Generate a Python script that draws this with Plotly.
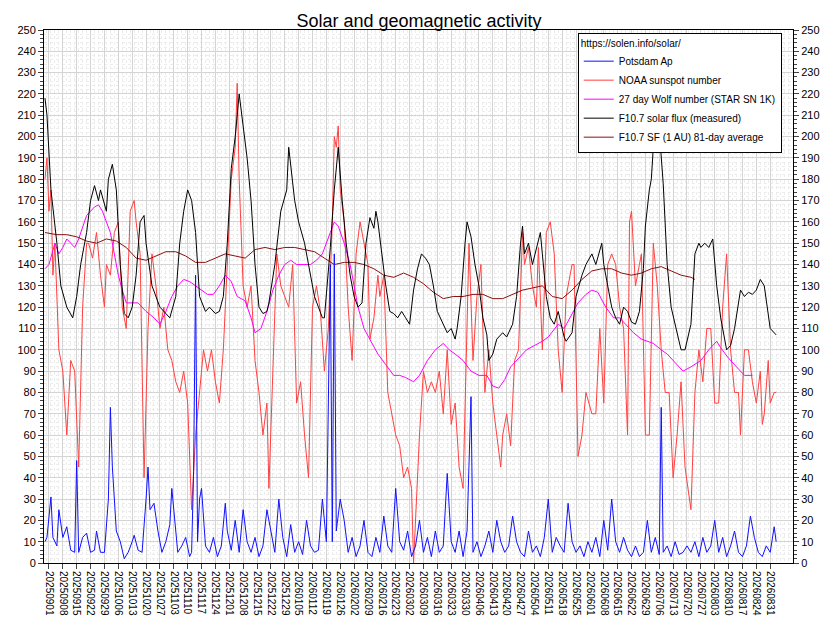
import pandas as pd
import plotly.graph_objects as go

start = pd.Timestamp("2025-09-01")

# F10.7 solar flux (measured): day offset from 2025-09-01, value
f107_days = [-2, -1, 1, 4, 6, 9, 12, 14, 16, 19, 21, 23, 25, 26, 29, 30, 32, 34, 36, 38, 40, 42, 44, 46, 48, 49,
             52, 54, 56, 59, 61, 64, 66, 68, 70, 72, 74, 76, 79, 81, 84, 86, 88, 90, 92, 94, 96, 98, 100, 102, 104,
             106, 108, 110, 111, 114, 117, 120, 121, 124, 126, 129, 131, 134, 136, 138, 139, 140, 142, 144, 145,
             146, 148, 150, 152, 154, 156, 158, 160, 162, 164, 165, 166, 168, 170, 172, 174, 176, 178, 180, 182,
             184, 186, 188, 190, 192, 194, 196, 199, 201, 203, 205, 206, 208, 210, 211, 213, 215, 217, 219, 221,
             222, 224, 226, 229, 231, 234, 236, 238, 239, 240, 242, 244, 246, 248, 249, 251, 253, 255, 257, 259,
             260, 261, 264, 266, 269, 271, 274, 276, 279, 280, 282, 284, 286, 288, 290, 292, 294, 296, 298, 300,
             301, 303, 304, 305, 306, 308, 310, 312, 314, 317, 319, 321, 324, 326, 328, 329, 331, 333, 335, 337,
             339, 342, 344, 346, 349, 351, 353, 355, 357, 359, 361, 364, 367]
f107_vals = [218, 210, 175, 150, 130, 120, 115, 125, 140, 155, 170, 177, 170, 175, 165, 180, 187, 175, 140, 117,
             115, 120, 135, 160, 163, 150, 130, 125, 120, 117, 115, 125, 150, 165, 175, 170, 155, 125, 118, 120,
             117, 118, 125, 150, 185, 200, 220, 205, 190, 170, 140, 120, 117, 118, 122, 140, 165, 175, 195, 170,
             160, 150, 140, 125, 120, 115, 115, 125, 148, 175, 185, 195, 170, 150, 135, 125, 120, 122, 150, 162,
             157, 165, 160, 145, 130, 118, 117, 115, 118, 115, 112, 128, 138, 145, 143, 140, 130, 118, 112, 108,
             110, 105, 110, 125, 150, 160, 153, 140, 130, 115, 107, 95, 98, 105, 108, 106, 112, 125, 150, 158, 145,
             150, 140, 148, 155, 145, 125, 115, 112, 118, 110, 106, 104, 108, 125, 135, 140, 145, 140, 150, 140,
             130, 120, 115, 112, 120, 118, 113, 112, 118, 138, 158, 175, 180, 195, 203, 203, 178, 140, 120, 108,
             100, 100, 112, 145, 150, 148, 150, 148, 152, 130, 115, 100, 102, 110, 128, 125, 127, 126, 128, 133,
             130, 110, 107]

# NOAA sunspot number
ssn_days = [-2, -1, 0, 1, 2, 3, 5, 7, 9, 10, 11, 13, 15, 17, 19, 20, 22, 24, 26, 28, 29, 31, 33, 35, 37, 39, 41,
            43, 44, 46, 48, 50, 52, 54, 56, 58, 60, 62, 64, 66, 68, 70, 72, 74, 76, 78, 80, 82, 84, 86, 88, 90, 92,
            94, 95, 96, 98, 100, 102, 104, 106, 108, 110, 111, 113, 115, 117, 119, 121, 123, 125, 127, 129, 131,
            133, 135, 137, 139, 141, 143, 144, 145, 146, 147, 149, 151, 153, 155, 157, 159, 161, 162, 164, 166,
            167, 169, 171, 173, 175, 177, 179, 181, 183, 184, 185, 187, 189, 191, 193, 195, 197, 199, 201, 203,
            205, 207, 209, 211, 212, 214, 216, 218, 220, 222, 224, 226, 228, 229, 231, 233, 235, 237, 239, 240,
            242, 244, 246, 247, 249, 251, 253, 255, 257, 259, 261, 264, 265, 267, 269, 271, 274, 276, 278, 280,
            282, 284, 286, 288, 290, 292, 293, 294, 296, 298, 299, 301, 303, 305, 307, 309, 311, 313, 315, 317,
            319, 321, 323, 324, 326, 328, 330, 332, 334, 336, 338, 340, 342, 344, 346, 348, 349, 351, 353, 355,
            357, 359, 360, 361, 363, 364, 366, 367]
ssn_vals = [180, 190, 165, 175, 135, 150, 100, 90, 60, 80, 95, 90, 45, 120, 150, 150, 143, 155, 135, 120, 140, 135,
            155, 160, 120, 110, 165, 170, 160, 145, 40, 110, 145, 130, 110, 120, 100, 95, 85, 80, 90, 75, 25, 60, 80,
            100, 90, 100, 85, 75, 100, 140, 180, 195, 225, 180, 130, 120, 130, 95, 80, 60, 75, 35, 95, 145, 130,
            125, 120, 140, 75, 85, 60, 40, 120, 130, 118, 90, 110, 160, 200, 195, 205, 175, 160, 120, 95, 145, 160,
            150, 140, 105, 115, 135, 125, 135, 80, 70, 60, 55, 40, 45, 35, 0, 20, 60, 90, 80, 85, 80, 90, 70, 100,
            65, 75, 45, 35, 110, 150, 95, 125, 140, 80, 100, 75, 60, 45, 60, 70, 55, 95, 100, 155, 140, 148, 130,
            120, 148, 100, 155, 160, 145, 100, 80, 125, 140, 140, 50, 60, 80, 70, 70, 110, 75, 140, 145, 140, 120,
            110, 60, 160, 165, 130, 140, 145, 60, 60, 150, 130, 100, 80, 80, 40, 60, 85, 45, 30, 25, 80, 100, 85,
            110, 110, 75, 75, 120, 145, 100, 80, 80, 60, 100, 100, 85, 75, 90, 65, 70, 95, 75, 80, 80]

# 27 day Wolf number (STAR SN 1K)
wolf_days = [-2, 0, 3, 5, 7, 9, 11, 13, 15, 17, 19, 21, 23, 25, 27, 29, 31, 33, 35, 37, 39, 42, 45, 49, 53, 56,
             59, 62, 65, 68, 71, 74, 77, 80, 83, 86, 89, 92, 95, 99, 102, 104, 107, 110, 113, 116, 119, 122, 125,
             128, 132, 135, 138, 142, 144, 146, 149, 152, 156, 159, 163, 166, 170, 174, 177, 180, 184, 187, 191,
             195, 199, 202, 205, 209, 213, 217, 221, 224, 227, 230, 233, 237, 241, 245, 249, 252, 257, 260, 263,
             267, 271, 274, 277, 281, 285, 288, 291, 295, 299, 302, 305, 309, 312, 316, 320, 324, 329, 333, 337,
             339, 343, 347, 351, 355]
wolf_vals = [138, 140, 150, 145, 148, 152, 150, 148, 152, 158, 163, 165, 167, 168, 165, 160, 155, 145, 135, 128,
             122, 122, 122, 118, 115, 112, 118, 125, 130, 133, 132, 130, 128, 126, 126, 130, 135, 132, 125, 123,
             115, 108, 110, 118, 128, 135, 140, 142, 140, 140, 140, 142, 145, 155, 160, 158, 150, 140, 120, 110,
             103, 98, 93, 88, 88, 87, 85, 88, 95, 100, 103, 100, 98, 95, 90, 88, 88, 83, 82, 86, 92, 96, 100, 102,
             104, 106, 112, 110, 115, 122, 126, 128, 127, 120, 115, 115, 112, 108, 105, 104, 103, 100, 98, 94, 90,
             92, 95, 100, 104, 101, 96, 92, 88, 88]

# F10.7 SF (1 AU) 81-day average
avg_days = [-2, 4, 9, 14, 19, 24, 29, 34, 39, 44, 49, 54, 59, 64, 69, 74, 79, 84, 89, 94, 99, 104, 109, 114, 119,
            124, 129, 134, 139, 144, 149, 154, 159, 164, 169, 174, 179, 184, 189, 194, 199, 204, 209, 214, 219,
            224, 229, 234, 239, 244, 249, 254, 259, 264, 269, 274, 279, 284, 289, 294, 299, 304, 309, 314, 319,
            324, 326]
avg_vals = [155, 154, 154, 153, 151, 150, 152, 151, 148, 143, 142, 144, 146, 146, 144, 141, 141, 143, 145, 144,
            143, 147, 148, 147, 148, 148, 147, 146, 143, 140, 141, 141, 140, 138, 135, 134, 136, 134, 131, 127, 124,
            125, 125, 126, 126, 124, 124, 126, 128, 129, 130, 125, 124, 128, 133, 137, 138, 138, 136, 135, 136,
            138, 139, 137, 135, 134, 133]

# Potsdam Ap
ap_days = [-2, -1, 1, 2, 4, 5, 7, 9, 11, 13, 14, 15, 17, 19, 21, 23, 24, 26, 28, 30, 31, 32, 34, 36, 38, 40, 42,
           43, 45, 47, 49, 50, 51, 53, 55, 57, 59, 61, 62, 63, 65, 67, 69, 71, 72, 73, 74, 75, 76, 77, 78, 79, 81,
           83, 85, 87, 89, 90, 92, 94, 96, 98, 100, 102, 104, 106, 108, 110, 112, 114, 116, 118, 120, 122, 124,
           126, 128, 130, 132, 134, 136, 138, 140, 142, 143, 144, 145, 147, 149, 151, 153, 155, 157, 159, 161,
           163, 165, 167, 169, 171, 173, 175, 177, 179, 181, 183, 185, 187, 189, 191, 193, 195, 197, 199, 201,
           203, 205, 207, 209, 211, 213, 214, 216, 218, 220, 222, 224, 226, 228, 230, 232, 234, 236, 238, 240,
           242, 244, 246, 248, 250, 252, 254, 256, 258, 260, 262, 264, 266, 268, 270, 272, 274, 276, 278, 280,
           282, 284, 286, 288, 290, 292, 294, 296, 298, 300, 302, 304, 306, 308, 309, 310, 312, 314, 316, 318,
           320, 322, 324, 326, 328, 330, 332, 334, 336, 338, 340, 342, 344, 346, 348, 350, 352, 354, 356, 358,
           360, 362, 364, 366, 367]
ap_vals = [10, 12, 31, 12, 8, 25, 12, 17, 6, 5, 48, 5, 12, 14, 5, 6, 15, 5, 5, 30, 73, 45, 15, 10, 2, 5, 10, 13,
           6, 5, 30, 45, 25, 28, 15, 5, 10, 18, 35, 25, 5, 8, 12, 3, 5, 43, 135, 10, 30, 35, 20, 8, 5, 12, 3, 8,
           28, 15, 6, 20, 5, 25, 10, 5, 12, 3, 8, 25, 15, 5, 30, 12, 3, 18, 5, 10, 4, 20, 8, 5, 6, 30, 10, 140, 10,
           145, 15, 30, 20, 5, 12, 3, 8, 20, 5, 3, 12, 5, 22, 8, 5, 35, 10, 6, 15, 3, 8, 20, 5, 12, 3, 15, 5, 8, 42,
           10, 5, 15, 3, 15, 78, 5, 10, 3, 8, 15, 5, 20, 10, 5, 8, 22, 10, 5, 3, 15, 5, 8, 3, 12, 30, 5, 12, 8, 5,
           28, 10, 5, 8, 3, 10, 5, 12, 3, 20, 6, 30, 10, 5, 12, 6, 3, 8, 3, 5, 20, 5, 12, 4, 73, 5, 8, 3, 10, 4, 5,
           8, 5, 10, 3, 12, 5, 8, 20, 5, 12, 3, 8, 15, 5, 3, 8, 22, 12, 5, 3, 8, 5, 17, 10]


def to_dates(days):
    return [start + pd.Timedelta(days=d) for d in days]


fig = go.Figure()
fig.add_trace(go.Scatter(x=to_dates(ssn_days), y=ssn_vals, name="NOAA sunspot number", legendrank=2,
                         mode="lines", line=dict(color="#ff4040", width=1)))
fig.add_trace(go.Scatter(x=to_dates(wolf_days), y=wolf_vals, name="27 day Wolf number (STAR SN 1K)",
                         legendrank=3, mode="lines", line=dict(color="#ff00ff", width=1)))
fig.add_trace(go.Scatter(x=to_dates(avg_days), y=avg_vals, name="F10.7 SF (1 AU) 81-day average", legendrank=5,
                         mode="lines", line=dict(color="#8b1010", width=1)))
fig.add_trace(go.Scatter(x=to_dates(f107_days), y=f107_vals, name="F10.7 solar flux (measured)", legendrank=4,
                         mode="lines", line=dict(color="black", width=1)))
fig.add_trace(go.Scatter(x=to_dates(ap_days), y=ap_vals, name="Potsdam Ap", legendrank=1,
                         mode="lines", line=dict(color="#1010ff", width=1)))
# dummy trace for the right hand axis
fig.add_trace(go.Scatter(x=[start], y=[0], yaxis="y2", showlegend=False, hoverinfo="skip",
                         mode="markers", marker=dict(opacity=0)))

ticks = pd.date_range("2025-09-01", "2026-08-31", freq="7D")
yax = dict(range=[0, 250], dtick=10, showgrid=True, gridcolor="#d4d4d4", ticks="outside", ticklen=5,
           showline=True, linecolor="black", zeroline=False, tickfont=dict(size=11, color="black"),
           automargin=False,
           minor=dict(dtick=2, showgrid=True, gridcolor="#ececec", griddash="dot", ticks="outside", ticklen=3))

fig.update_layout(
    width=822, height=634,
    title=dict(text="Solar and geomagnetic activity", x=0.5, y=0.99, font=dict(size=18, color="black")),
    font=dict(family="Arial, Liberation Sans", color="black"),
    plot_bgcolor="white", paper_bgcolor="white",
    margin=dict(l=36, r=37, t=22, b=79),
    xaxis=dict(range=[start - pd.Timedelta(days=2.5), start + pd.Timedelta(days=375.5)],
               tickvals=list(ticks), ticktext=[t.strftime("%Y%m%d") for t in ticks], tickangle=90,
               tickfont=dict(size=10), ticks="outside", ticklen=5, showline=True, linecolor="black",
               mirror=True, showgrid=True, gridcolor="#d4d4d4", automargin=False,
               minor=dict(dtick=2 * 86400000, showgrid=True, gridcolor="#ececec", griddash="dot")),
    yaxis=dict(**yax),
    yaxis2=dict(**yax, overlaying="y", side="right", matches="y"),
    showlegend=True,
    legend=dict(x=0.985, y=0.995, xanchor="right", yanchor="top", bgcolor="white", bordercolor="black",
                borderwidth=1, font=dict(size=10), tracegroupgap=0, itemwidth=30,
                title=dict(text="https://solen.info/solar/", font=dict(size=10))),
)
fig.update_yaxes(showgrid=False, selector=dict(overlaying="y"))

fig.write_html("out.html")
